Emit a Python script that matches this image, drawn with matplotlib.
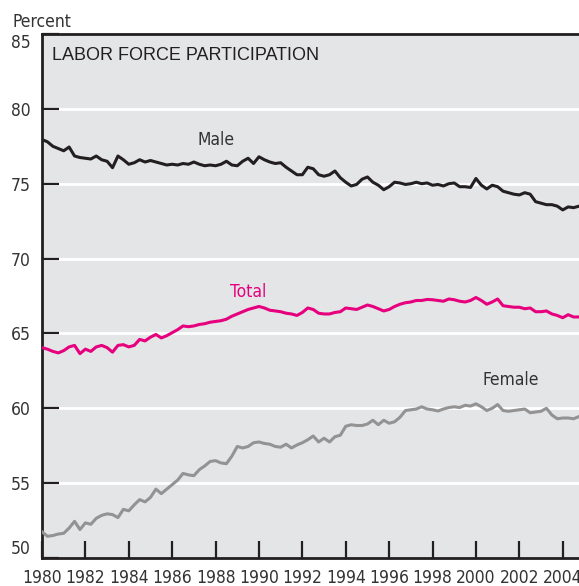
import numpy as np
import matplotlib
matplotlib.use("Agg")
import matplotlib.pyplot as plt
from matplotlib import font_manager as fm

# quarterly readings, 1980 Q1 .. 2004 Q4
start_year = 1980
male = [
    77.95, 77.8, 77.5, 77.35, 77.2, 77.45, 76.85, 76.75,
    76.7, 76.65, 76.85, 76.6, 76.5, 76.07, 76.85, 76.6,
    76.3, 76.4, 76.6, 76.45, 76.55, 76.45, 76.35, 76.25,
    76.3, 76.25, 76.35, 76.3, 76.45, 76.3, 76.2, 76.25,
    76.2, 76.3, 76.5, 76.25, 76.2, 76.5, 76.7, 76.35,
    76.8, 76.6, 76.45, 76.35, 76.4, 76.1, 75.85, 75.6,
    75.6, 76.1, 76.0, 75.6, 75.5, 75.6, 75.85, 75.4,
    75.1, 74.85, 74.95, 75.3, 75.45, 75.1, 74.9, 74.6,
    74.8, 75.1, 75.05, 74.95, 75.0, 75.1, 75.0, 75.05,
    74.9, 74.95, 74.85, 75.0, 75.05, 74.8, 74.8, 74.75,
    75.35, 74.9, 74.65, 74.9, 74.8, 74.5, 74.4, 74.3,
    74.25, 74.4, 74.3, 73.8, 73.7, 73.6, 73.6, 73.5,
    73.25, 73.45, 73.4, 73.5,
]
total = [
    64.05, 63.95, 63.8, 63.7, 63.85, 64.1, 64.2, 63.65,
    63.95, 63.8, 64.1, 64.2, 64.05, 63.75, 64.2, 64.25,
    64.1, 64.2, 64.6, 64.5, 64.75, 64.93, 64.7, 64.85,
    65.05, 65.25, 65.5, 65.45, 65.5, 65.6, 65.65, 65.75,
    65.8, 65.85, 65.95, 66.15, 66.3, 66.45, 66.6, 66.7,
    66.8, 66.7, 66.55, 66.5, 66.45, 66.35, 66.3, 66.2,
    66.4, 66.7, 66.6, 66.35, 66.3, 66.3, 66.4, 66.45,
    66.7, 66.65, 66.6, 66.75, 66.9, 66.8, 66.65, 66.5,
    66.6, 66.8, 66.95, 67.05, 67.1, 67.2, 67.2, 67.27,
    67.25, 67.2, 67.15, 67.3, 67.25, 67.15, 67.1, 67.2,
    67.4, 67.2, 66.95, 67.1, 67.3, 66.85, 66.8, 66.75,
    66.75, 66.65, 66.7, 66.45, 66.45, 66.5, 66.3, 66.2,
    66.05, 66.25, 66.1, 66.1,
]
female = [
    51.75, 51.45, 51.5, 51.6, 51.65, 52.0, 52.45, 51.9,
    52.35, 52.25, 52.65, 52.85, 52.95, 52.9, 52.7, 53.25,
    53.15, 53.55, 53.9, 53.75, 54.05, 54.6, 54.3, 54.6,
    54.9, 55.2, 55.65, 55.55, 55.5, 55.9, 56.15, 56.45,
    56.5, 56.35, 56.3, 56.8, 57.45, 57.35, 57.45, 57.7,
    57.75, 57.65, 57.6, 57.45, 57.4, 57.6, 57.35, 57.55,
    57.7, 57.9, 58.15, 57.75, 58.0, 57.75, 58.1, 58.2,
    58.8, 58.9, 58.85, 58.85, 58.95, 59.2, 58.9, 59.2,
    59.0, 59.1, 59.4, 59.85, 59.9, 59.95, 60.1, 59.95,
    59.9, 59.82, 59.95, 60.05, 60.1, 60.05, 60.2, 60.15,
    60.3, 60.1, 59.85, 60.0, 60.25, 59.85, 59.8, 59.85,
    59.9, 59.95, 59.7, 59.75, 59.8, 60.0, 59.55, 59.3,
    59.35, 59.35, 59.3, 59.45,
]
years = start_year + np.arange(len(male)) / 4
xticks = list(range(1980, 2005, 2))
yticks = [50, 55, 60, 65, 70, 75, 80, 85]

ink = "#231f20"
txt = "#333333"

# look for a narrow face for the condensed labels
narrow_path = None
for f in fm.fontManager.ttflist:
    if f.style == "normal" and f.weight in (400, "normal", "regular") and (
        f.stretch in ("condensed", "semi-condensed") or "Narrow" in f.name or "Condensed" in f.name
    ):
        narrow_path = f.fname
        break
if narrow_path:
    lab = dict(fontproperties=fm.FontProperties(fname=narrow_path, size=12.5))
else:
    lab = dict(fontproperties=fm.FontProperties(family="Liberation Sans", size=11))

fig = plt.figure(figsize=(5.79, 5.86), dpi=100)
ax = fig.add_axes([42 / 579, 28 / 586, 537 / 579, 524 / 586])
ax.set_facecolor("#e4e5e7")

for v in yticks[1:-1]:
    ax.axhline(v, color="white", linewidth=2, zorder=1)

ax.plot(years, male, color=ink, linewidth=2.2, zorder=3)
ax.plot(years, total, color="#e6007e", linewidth=2.2, zorder=3)
ax.plot(years, female, color="#939393", linewidth=2.2, zorder=3)

ax.set_xlim(1980, 2004.75)
ax.set_ylim(50, 85)
ax.set_xticks(xticks)
ax.set_yticks(yticks)
ax.set_xticklabels([str(y) for y in xticks], color=txt, **lab)
ax.set_yticklabels([str(v) for v in yticks], color=txt, **lab)
ax.tick_params(direction="in", length=12.5, width=1.6, color=ink)
ax.tick_params(axis="x", pad=8)
ax.tick_params(axis="y", pad=8)
ylabs = ax.get_yticklabels()
ylabs[0].set_va("bottom")
ylabs[-1].set_va("top")

for side in ["left", "bottom", "top"]:
    ax.spines[side].set_color(ink)
    ax.spines[side].set_linewidth(2)
ax.spines["right"].set_visible(False)

ax.text(0.018, 0.975, "LABOR FORCE PARTICIPATION", transform=ax.transAxes,
        ha="left", va="top", fontsize=13, family="Liberation Sans", color=ink)
ax.text(1988.0, 77.9, "Male", color=txt, ha="center", va="center", **lab)
ax.text(1989.5, 67.8, "Total", color="#e6007e", ha="center", va="center", **lab)
ax.text(2001.6, 61.9, "Female", color=txt, ha="center", va="center", **lab)
fig.text(13 / 579, 1 - 27 / 586, "Percent", color=txt, ha="left", va="baseline", **lab)

fig.savefig("out.png", dpi=100)
